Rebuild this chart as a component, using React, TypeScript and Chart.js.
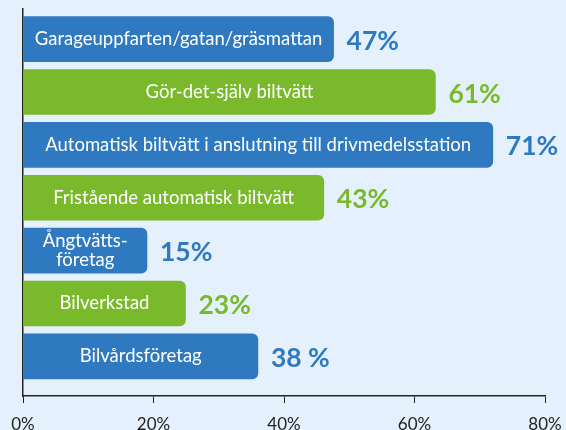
import React, { useEffect, useRef } from "react";
import { Chart, registerables } from "chart.js";

Chart.register(...registerables);

const categories = [
  "Garageuppfarten/gatan/gräsmattan",
  "Gör-det-själv biltvätt",
  "Automatisk biltvätt i anslutning till drivmedelsstation",
  "Fristående automatisk biltvätt",
  "Ångtvätts-\nföretag",
  "Bilverkstad",
  "Bilvårdsföretag",
];
// bar lengths as drawn in the picture (percent)
const barLengths = [47.6, 63.2, 72.0, 46.1, 19.0, 24.9, 36.0];
// value labels printed next to the bars
const valueLabels = ["47%", "61%", "71%", "43%", "15%", "23%", "38 %"];
const xTicks = [0, 20, 40, 60, 80];

const BLUE = "#2f79c1";
const GREEN = "#7ab92b";
const barColors = categories.map((_, i) => (i % 2 === 0 ? BLUE : GREEN));

const labelPlugin = {
  id: "barLabels",
  afterDatasetsDraw(chart: any) {
    const ctx = chart.ctx;
    const meta = chart.getDatasetMeta(0);
    ctx.save();
    meta.data.forEach((bar: any, i: number) => {
      const { x, y, base } = bar.getProps(["x", "y", "base"], true);
      // category label inside the bar
      ctx.fillStyle = "#ffffff";
      ctx.font = "18.5px Lato";
      ctx.textAlign = "center";
      ctx.textBaseline = "middle";
      const lines = categories[i].split("\n");
      const lh = 18.5;
      const cx = (x + base) / 2;
      lines.forEach((ln, j) => {
        ctx.fillText(ln, cx, y + (j - (lines.length - 1) / 2) * lh);
      });
      // value label
      ctx.fillStyle = barColors[i];
      ctx.font = "bold 26.5px Lato";
      ctx.textAlign = "left";
      ctx.fillText(valueLabels[i], x + 13, y + 2);
    });
    ctx.restore();
  },
};

export default function App() {
  const ref = useRef<HTMLCanvasElement | null>(null);
  useEffect(() => {
    if (!ref.current) return;
    const chart = new Chart(ref.current, {
      type: "bar",
      data: {
        datasets: [
          {
            data: barLengths.map((v, i) => ({ x: v, y: i })),
            backgroundColor: barColors,
            borderWidth: 0,
            borderRadius: { topLeft: 0, bottomLeft: 0, topRight: 6, bottomRight: 6 },
            borderSkipped: "start",
            barThickness: 45,
          } as any,
        ],
      },
      options: {
        indexAxis: "y",
        animation: false,
        responsive: false,
        events: [],
        layout: { padding: { top: 9, right: 21, left: 0, bottom: 0 } },
        plugins: { legend: { display: false }, tooltip: { enabled: false } },
        scales: {
          x: {
            type: "linear",
            min: 0,
            max: 80,
            offset: false,
            afterBuildTicks: (scale: any) => {
              scale.ticks = xTicks.map((v) => ({ value: v }));
            },
            afterFit: (scale: any) => {
              scale.height = 34;
              scale.paddingLeft = 0;
              scale.paddingRight = 0;
            },
            ticks: {
              callback: (v: any) => v + "%",
              color: "#222",
              font: { family: "Lato", size: 17 },
              padding: 11,
              maxRotation: 0,
            },
            grid: { drawOnChartArea: false, drawTicks: true, tickLength: 7, color: "#222", offset: false },
            border: { display: true, color: "#222", width: 1.5 },
          },
          y: {
            type: "linear",
            reverse: true,
            offset: false,
            min: -0.57,
            max: 6.75,
            afterFit: (scale: any) => {
              scale.width = 23;
              scale.paddingTop = 0;
              scale.paddingBottom = 0;
            },
            ticks: { display: false },
            grid: { drawOnChartArea: false, drawTicks: false, offset: false },
            border: { display: true, color: "#222", width: 1.5 },
          },
        },
      } as any,
      plugins: [labelPlugin],
    });
    return () => chart.destroy();
  }, []);
  return (
    <div
      style={{
        position: "fixed",
        left: 0,
        top: 0,
        width: 566,
        height: 430,
        background: "#e4f0fb",
        overflow: "hidden",
      }}
    >
      <canvas ref={ref} width={566} height={430} style={{ display: "block" }} />
    </div>
  );
}
